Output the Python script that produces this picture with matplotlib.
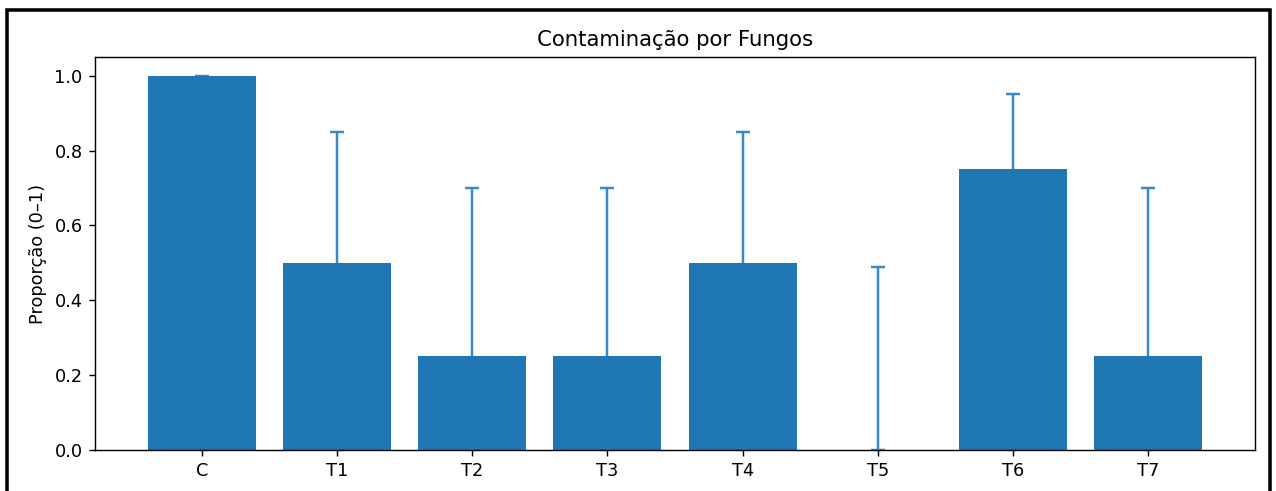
import numpy as np
import matplotlib
matplotlib.use('Agg')
import matplotlib.pyplot as plt
from matplotlib.patches import Rectangle

# data
grupos = ["C", "T1", "T2", "T3", "T4", "T5", "T6", "T7"]
proporcao = [1.0, 0.5, 0.25, 0.25, 0.5, 0.0, 0.75, 0.25]
erro_sup = [0.0, 0.35, 0.45, 0.45, 0.35, 0.49, 0.20, 0.45]

# the reference looks like a 10in figure scaled up, so render at dpi 127.6
DPI = 127.6
fig = plt.figure(figsize=(1276 / DPI, 491 / DPI), dpi=DPI)
ax = fig.add_axes([0.0745, 0.0835, 0.909, 0.8005])

x = np.arange(len(grupos))
# error bars sit behind the bars, lower half hidden inside the bar
ax.errorbar(x, proporcao, yerr=[proporcao, erro_sup], fmt='none',
            ecolor='#3a89c6', elinewidth=1.4, capsize=4, capthick=1.4, zorder=1)
ax.bar(x, proporcao, width=0.8, color='#1f77b4', zorder=2)
ax.set_ylim(bottom=0)

ax.set_xticks(x)
ax.set_xticklabels(grupos)
ax.set_ylabel("Proporção (0–1)")
ax.set_title("Contaminação por Fungos", fontsize=12)

# screenshot frame
fig.patches.append(Rectangle((0.0055, -0.05), 0.99, 1.03, transform=fig.transFigure,
                             fill=False, edgecolor='black', linewidth=2))

plt.savefig("out.png", dpi=DPI)
plt.close()
